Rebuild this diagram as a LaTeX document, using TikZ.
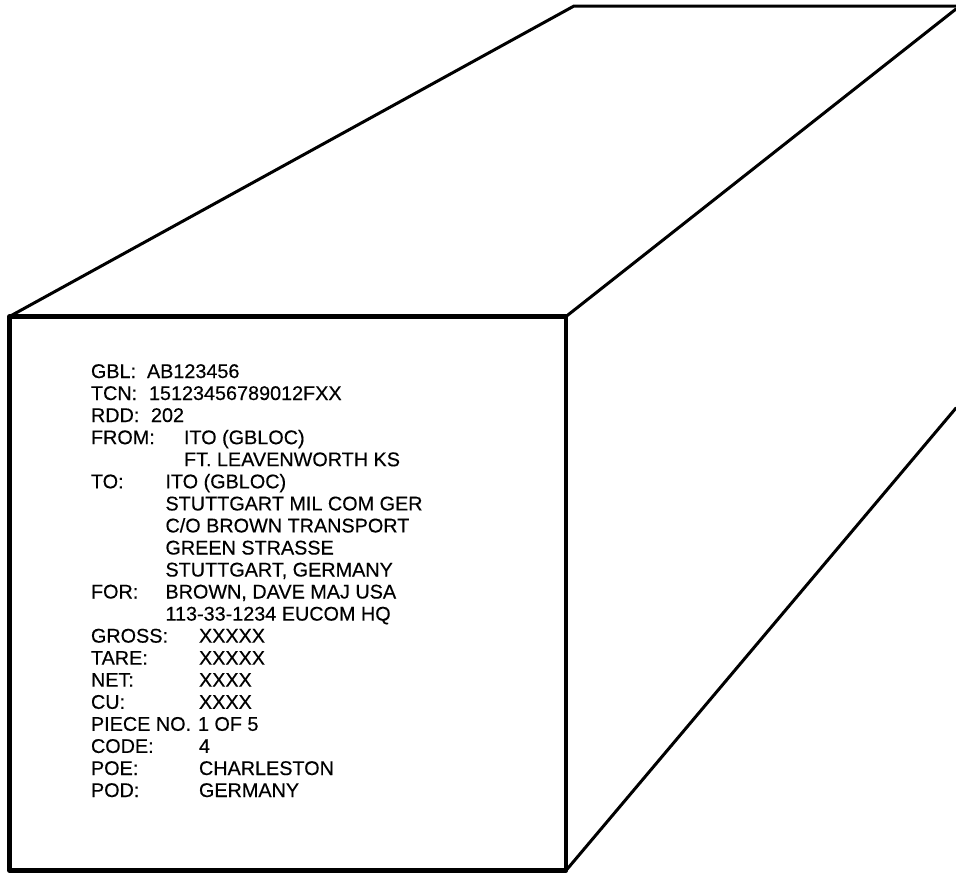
\documentclass[tikz,border=0pt]{standalone}
\usepackage{fontspec}
\setmainfont[FakeBold=0.35]{Liberation Sans}
\tikzset{
  txt/.style={anchor=base west,inner sep=0pt,outer sep=0pt,font=\fontsize{19.8}{22}\selectfont,text=black},
  face/.style={line width=4.4pt,line cap=round,line join=round},
  edge/.style={line width=3pt,line cap=round}
}
\begin{document}
\begin{tikzpicture}[x=1pt,y=-1pt]
\useasboundingbox (0,0) rectangle (956,873);
\coordinate (tl) at (9.5,316.5);
\coordinate (tr) at (566,316.5);
\coordinate (br) at (566,870.5);
\coordinate (bl) at (9.5,870.5);
\coordinate (ba) at (574,6);
\coordinate (bb) at (956,6);
\coordinate (cc) at (956,9);
\coordinate (dd) at (956,408);
\draw[face] (tl) -- (tr) -- (br) -- (bl) -- cycle;
\draw[edge] (tl) -- (ba) -- (bb);
\draw[edge] (tr) -- (cc);
\draw[edge] (br) -- (dd);
\node[txt] (a1) at (91,378) {GBL:};
\node[txt] (b1) at (147,378) {AB123456};
\node[txt] (a2) at (91,400) {TCN:};
\node[txt] (b2) at (149,400) {15123456789012FXX};
\node[txt] (a3) at (91,422) {RDD:};
\node[txt] (b3) at (151,422) {202};
\node[txt] (a4) at (91,444.2) {FROM:};
\node[txt] (b4) at (184,444.2) {ITO (GBLOC)};
\node[txt] (b5) at (184,466.2) {FT. LEAVENWORTH KS};
\node[txt] (a6) at (91,488.3) {TO:};
\node[txt] (b6) at (165.5,488.3) {ITO (GBLOC)};
\node[txt] (b7) at (165.5,510.4) {STUTTGART MIL COM GER};
\node[txt] (b8) at (165.5,532.4) {C/O BROWN TRANSPORT};
\node[txt] (b9) at (165.5,554.5) {GREEN STRASSE};
\node[txt] (b10) at (165.5,576.5) {STUTTGART, GERMANY};
\node[txt] (a11) at (91,598.5) {FOR:};
\node[txt] (b11) at (165.5,598.5) {BROWN, DAVE MAJ USA};
\node[txt] (b12) at (165.5,620.6) {113-33-1234 EUCOM HQ};
\node[txt] (a13) at (91,642.6) {GROSS:};
\node[txt] (b13) at (199,642.6) {XXXXX};
\node[txt] (a14) at (91,664.7) {TARE:};
\node[txt] (b14) at (199,664.7) {XXXXX};
\node[txt] (a15) at (91,686.7) {NET:};
\node[txt] (b15) at (199,686.7) {XXXX};
\node[txt] (a16) at (91,708.8) {CU:};
\node[txt] (b16) at (199,708.8) {XXXX};
\node[txt] (a17) at (91,730.8) {PIECE NO.};
\node[txt] (b17) at (198,730.8) {1 OF 5};
\node[txt] (a18) at (91,752.9) {CODE:};
\node[txt] (b18) at (199,752.9) {4};
\node[txt] (a19) at (91,775) {POE:};
\node[txt] (b19) at (199,775) {CHARLESTON};
\node[txt] (a20) at (91,797) {POD:};
\node[txt] (b20) at (199,797) {GERMANY};
\end{tikzpicture}
\end{document}
